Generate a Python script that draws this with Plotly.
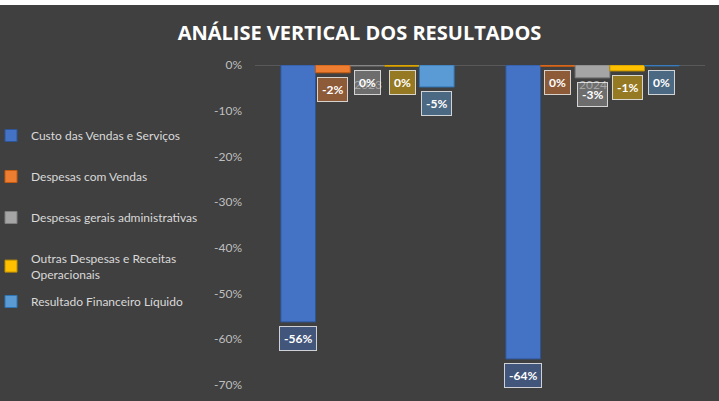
import plotly.graph_objects as go

categories = ["2023", "2024"]
series_names = [
    "Custo das Vendas e Serviços",
    "Despesas com Vendas",
    "Despesas gerais administrativas",
    "Outras Despesas e Receitas<br>Operacionais",
    "Resultado Financeiro Líquido",
]
custo = [-56.2, -64.3]
desp_vendas = [-1.7, -0.3]
desp_gerais = [-0.2, -2.8]
outras = [-0.3, -1.3]
resultado = [-4.8, -0.2]
series_values = [custo, desp_vendas, desp_gerais, outras, resultado]
y_ticks = [0, -10, -20, -30, -40, -50, -60, -70]

colors = ["#4472C4", "#ED7D31", "#A5A5A5", "#FFC000", "#5B9BD5"]
edge = ["#2F5597", "#C55A11", "#7F7F7F", "#BF9000", "#2E75B6"]
label_bg = ["rgba(68,114,196,0.45)", "rgba(237,125,49,0.45)", "rgba(165,165,165,0.45)",
            "rgba(255,192,0,0.45)", "rgba(91,155,213,0.45)"]

W, H = 719, 396
ml, mr, mt, mb = 255, 14, 60, 16
plot_w = W - ml - mr
plot_h = H - mt - mb
bargap = 0.23
cat_px = plot_w / len(categories)
bar_px = cat_px * (1 - bargap) / len(series_names)

fig = go.Figure()
for i, (name, vals) in enumerate(zip(series_names, series_values)):
    fig.add_trace(go.Bar(
        x=categories, y=vals, name=name, legendgroup=str(i),
        legend="legend2" if i == len(series_names) - 1 else "legend",
        marker=dict(color=colors[i], line=dict(color=edge[i], width=1)),
        hoverinfo="skip",
    ))

# category labels just below the zero line (x given as category index)
for j, c in enumerate(categories):
    fig.add_annotation(x=j, y=0, xref="x", yref="y", text=c, showarrow=False,
                       yanchor="top", yshift=-10,
                       font=dict(family="Lato", size=12, color="#A6A6A6"))

for i, vals in enumerate(series_values):
    for j, v in enumerate(vals):
        fig.add_annotation(
            x=j, y=v, xref="x", yref="y", text=f"<b>{int(round(v))}%</b>",
            showarrow=False, yanchor="top", yshift=-4,
            xshift=(i - (len(series_names) - 1) / 2) * bar_px,
            font=dict(family="Lato", size=12, color="#FFFFFF"),
            bgcolor=label_bg[i], bordercolor="rgba(255,255,255,0.75)",
            borderwidth=1, borderpad=4,
        )

legend_common = dict(x=-(ml + 9) / plot_w, xanchor="left", yanchor="top",
                     font=dict(family="Lato", size=12, color="#D9D9D9"),
                     bgcolor="rgba(0,0,0,0)", tracegroupgap=22, itemwidth=30)

fig.update_layout(
    width=W, height=H,
    margin=dict(l=ml, r=mr, t=mt, b=mb, autoexpand=False),
    paper_bgcolor="#404040", plot_bgcolor="#404040",
    barmode="group", bargap=bargap, bargroupgap=0,
    title=dict(text="<b>ANÁLISE VERTICAL DOS RESULTADOS</b>", x=0.5, xanchor="center",
               y=1 - 28 / H, yanchor="middle",
               font=dict(family="Open Sans", size=20, color="#FFFFFF")),
    showlegend=True,
    legend=dict(y=1 - (116 - mt) / plot_h, **legend_common),
    legend2=dict(y=1 - (282 - mt) / plot_h, **legend_common),
    xaxis=dict(type="category", range=[-0.5, len(categories) - 0.5], showticklabels=False,
               showline=False, showgrid=False, zeroline=False, ticks="",
               automargin=False),
    yaxis=dict(range=[-70, 0], tickvals=y_ticks, ticktext=[f"{t}%" for t in y_ticks],
               showgrid=False, zeroline=True, zerolinecolor="#595959", zerolinewidth=1,
               showline=False, ticks="", automargin=False, ticklabelstandoff=12,
               tickfont=dict(family="Lato", size=12, color="#BFBFBF")),
)

fig.write_html("out.html", post_script="document.body.style.margin='5px 0 0 0';document.body.style.background='#FFFFFF';")
